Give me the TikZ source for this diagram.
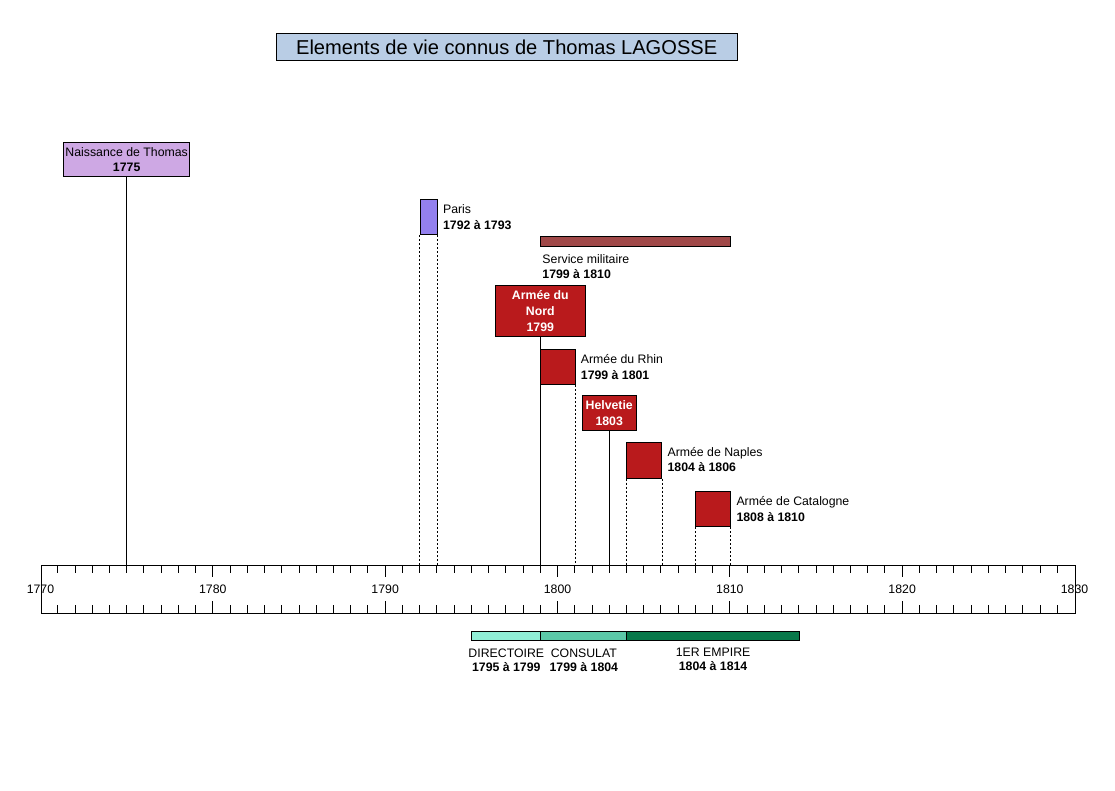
\documentclass[tikz,border=0pt]{standalone}
\usepackage{fontspec}
\setmainfont{Liberation Sans}
\usetikzlibrary{positioning}

\definecolor{titleblue}{RGB}{185,205,229}
\definecolor{birthlilac}{RGB}{206,168,228}
\definecolor{parispurple}{RGB}{147,128,238}
\definecolor{servicebrown}{RGB}{160,72,72}
\definecolor{armyred}{RGB}{185,26,28}
\definecolor{directoiregreen}{RGB}{144,238,214}
\definecolor{consulatgreen}{RGB}{92,200,168}
\definecolor{empiregreen}{RGB}{8,120,74}

\begin{document}
\begin{tikzpicture}[x=1pt, y=-1pt,
  every node/.style={font=\fontsize{12.3}{15.5}\selectfont},
  box/.style={draw, line width=1pt, inner sep=0pt, anchor=north west},
  lasting/.style={minimum width={#1*17.2333pt}},
  army/.style={box, fill=armyred, text=white, font=\fontsize{12.3}{16}\bfseries, align=center},
  lbl/.style={inner sep=0pt, anchor=north west, align=left},
  period/.style={line width=0.8pt, dash pattern=on 2pt off 2pt},
  lifeline/.style={line width=0.9pt}]
  \useasboundingbox (0,0) rectangle (1115,790);

  % Title
  \node[box, fill=titleblue, minimum width=461pt, minimum height=27.3pt,
        font=\fontsize{20.1}{24}\selectfont] (title) at (275.7,32.7)
        {Elements de vie connus de Thomas LAGOSSE};

  % Timeline, x counted in years from 1770
  \begin{scope}[shift={(40.5,0)}, x=17.2333pt]
    \node[box, lasting=60, minimum height=48pt] (axis) at (0,565.3) {};
    \foreach \t in {1,...,59} {
      \draw[lifeline] (\t,565.3) -- ++(0,8);
      \draw[lifeline] (\t,613.3) -- ++(0,-8);
    }
    \foreach \t in {10,20,...,50} {
      \draw[lifeline] (\t,565.3) -- ++(0,12);
      \draw[lifeline] (\t,613.3) -- ++(0,-12);
    }
    \foreach \t/\yearlab in {0/1770,10/1780,20/1790,30/1800,40/1810,50/1820,60/1830}
      \node[anchor=base, inner sep=0pt] (ylab\t) at (\t,593) {\yearlab};

    % Birth
    \node[box, fill=birthlilac, anchor=north, minimum width=126.6pt, minimum height=33.7pt,
          align=center] (naissance) at (1775-1770,142) {Naissance de Thomas\\\textbf{1775}};
    \draw[lifeline] (naissance.south) -- (naissance.south |- axis.north);

    % Paris
    \node[box, fill=parispurple, lasting=1, minimum height=35pt] (paris) at (1792-1770,199.3) {};
    \node[lbl] (paristxt) at ([xshift=5pt, yshift=-5.2pt]paris.north east) {Paris\\\textbf{1792 à 1793}};
    \draw[period] (paris.south west) -- (paris.south west |- axis.north);
    \draw[period] (paris.south east) -- (paris.south east |- axis.north);

    % Military service
    \node[box, fill=servicebrown, lasting=11, minimum height=10pt] (service) at (1799-1770,236) {};
    \node[lbl] (servicetxt) at ([xshift=2pt, yshift=-7.2pt]service.south west) {Service militaire\\\textbf{1799 à 1810}};

    % Armies
    \node[army, anchor=north, minimum width=89.7pt, minimum height=50.4pt] (nord) at (1799-1770,285.3) {Armée du\\Nord\\1799};
    \draw[lifeline] (nord.south) -- (nord.south |- axis.north);

    \node[army, lasting=2, minimum height=35pt] (rhin) at (1799-1770,349.3) {};
    \node[lbl] (rhintxt) at ([xshift=5pt, yshift=-5.2pt]rhin.north east) {Armée du Rhin\\\textbf{1799 à 1801}};
    \draw[period] (rhin.south west) -- (rhin.south west |- axis.north);
    \draw[period] (rhin.south east) -- (rhin.south east |- axis.north);

    \node[army, anchor=north, minimum width=54.4pt, minimum height=35.3pt] (helvetie) at (1803-1770,395) {Helvetie\\1803};
    \draw[lifeline] (helvetie.south) -- (helvetie.south |- axis.north);

    \node[army, lasting=2, minimum height=35.5pt] (naples) at (1804-1770,442) {};
    \node[lbl] (naplestxt) at ([xshift=5.5pt, yshift=-5.2pt]naples.north east) {Armée de Naples\\\textbf{1804 à 1806}};
    \draw[period] (naples.south west) -- (naples.south west |- axis.north);
    \draw[period] (naples.south east) -- (naples.south east |- axis.north);

    \node[army, lasting=2, minimum height=35pt] (catalogne) at (1808-1770,491.3) {};
    \node[lbl] (catalognetxt) at ([xshift=5.5pt, yshift=-5.2pt]catalogne.north east) {Armée de Catalogne\\\textbf{1808 à 1810}};
    \draw[period] (catalogne.south west) -- (catalogne.south west |- axis.north);
    \draw[period] (catalogne.south east) -- (catalogne.south east |- axis.north);

    % Regimes
    \node[box, fill=directoiregreen, lasting=4, minimum height=9.3pt] (directoire) at (1795-1770,630.7) {};
    \node[box, fill=consulatgreen, lasting=5, minimum height=9.3pt] (consulat) at (1799-1770,630.7) {};
    \node[box, fill=empiregreen, lasting=10, minimum height=9.3pt] (empire) at (1804-1770,630.7) {};
    \node[lbl, anchor=north, align=center, font=\fontsize{12.3}{14}\selectfont] (directoiretxt)
      at ([yshift=-7.2pt]directoire.south) {DIRECTOIRE\\\textbf{1795 à 1799}};
    \node[lbl, anchor=north, align=center, font=\fontsize{12.3}{14}\selectfont] (consulattxt)
      at ([yshift=-7.2pt]consulat.south) {CONSULAT\\\textbf{1799 à 1804}};
    \node[lbl, anchor=north, align=center, font=\fontsize{12.3}{14}\selectfont] (empiretxt)
      at ([yshift=-7.2pt]empire.south) {1ER EMPIRE\\\textbf{1804 à 1814}};
  \end{scope}
\end{tikzpicture}
\end{document}
